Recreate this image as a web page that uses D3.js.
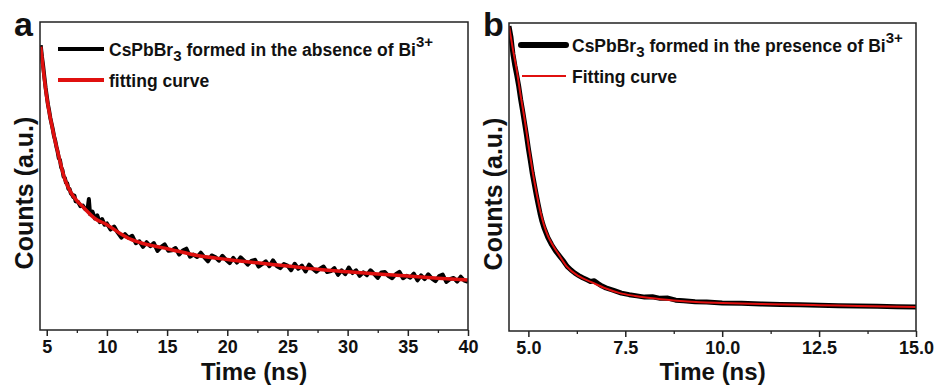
<!DOCTYPE html>
<html>
<head>
<meta charset="utf-8">
<style>
    body { margin:0; background:white; }
    svg text { font-family: Arial, "Liberation Sans", sans-serif; font-weight: bold; fill:#111; }
</style>
</head>
<body>
<svg id="chart" width="939" height="385"></svg>
<script src="https://cdn.jsdelivr.net/npm/d3@7/dist/d3.min.js"></script>
<script>
// ---- panel a : absence of Bi3+ ----
var timeA = [4.5,4.6,4.7,4.8,4.9,5.0,5.1,5.2,5.3,5.4,5.5,5.6,5.7,5.8,5.9,6.0,6.1,6.2,6.3,6.4,6.5,6.6,6.7,6.8,6.9,7.0,7.1,7.2,7.3,7.4,7.6,7.8,8.0,8.2,8.4,8.5,8.6,8.8,9.0,9.2,9.4,9.6,9.8,
    10.0,10.3,10.6,10.9,11.2,11.5,11.8,12.1,12.4,12.7,13.0,13.3,13.6,13.9,14.2,14.5,14.8,15.1,15.4,15.7,16.0,16.3,16.6,16.9,17.2,17.5,17.8,18.1,18.4,18.7,
    19.0,19.3,19.6,19.9,20.2,20.5,20.8,21.1,21.4,21.7,22.0,22.3,22.6,22.9,23.2,23.5,23.8,24.1,24.4,24.7,25.0,25.3,25.6,25.9,26.2,26.5,26.8,27.1,27.4,27.7,
    28.0,28.3,28.6,28.9,29.2,29.5,29.8,30.1,30.4,30.7,31.0,31.3,31.6,31.9,32.2,32.5,32.8,33.1,33.4,33.7,34.0,34.3,34.6,34.9,35.2,35.5,35.8,36.1,36.4,36.7,
    37.0,37.3,37.6,37.9,38.2,38.5,38.8,39.1,39.4,39.7,40.0];
var countsA = [925,888,858,822,788,760,732,712,688,670,652,630,616,596,580,558,552,528,520,498,494,478,476,458,458,444,440,432,436,418,416,402,404,392,396,425,376,384,362,372,350,360,342,
    346,326,336,316,300,311,299,306,282,288,270,285,272,282,257,270,278,257,259,266,245,258,264,238,245,237,251,236,223,242,
    237,225,241,228,217,234,219,236,225,212,224,228,206,214,223,207,226,208,201,214,209,194,215,199,209,190,212,199,189,199,
    206,188,191,201,179,194,181,203,185,194,176,187,178,194,182,169,187,188,175,168,181,189,168,176,170,183,161,177,165,181,
    167,159,175,180,156,165,169,157,173,160,156];
var fitTimeA = [4.5,5.0,5.5,6.0,6.5,7.0,7.5,8.0,9.0,10,11,12,13,14,15,17.5,20,22.5,25,27.5,30,32.5,35,37.5,40];
var fitA = [920,756,650,564,490,447,420,400,362,342,316,294,281,272,264,242,229,218,208,197,189,182,175,168,162];

// ---- panel b : presence of Bi3+ ----
var timeB = [4.5,4.55,4.6,4.65,4.7,4.75,4.8,4.85,4.9,4.95,5.0,5.05,5.1,5.15,5.2,5.25,5.3,5.35,5.4,5.5,5.6,5.7,5.8,5.9,6.0,6.1,6.2,6.3,6.4,6.5,6.6,6.7,
    6.8,6.9,7.0,7.2,7.4,7.6,7.8,8.0,8.2,8.4,8.6,8.8,9.0,9.3,9.6,10.0,10.5,11.0,11.5,12.0,12.5,13.0,13.5,14.0,14.5,15.0];
var countsB = [990,955,900,862,830,795,752,715,676,636,592,553,512,478,444,412,382,356,336,304,280,260,244,228,210,198,188,180,173,167,161,163,
    154,146,140,132,123,118,114,110,111,106,107,100,98,95,94,91,90,88,86,85,84,82,81,80,79,78];
var fitTimeB = [4.5,4.6,4.7,4.8,4.9,5.0,5.1,5.2,5.3,5.4,5.5,5.6,5.8,6.0,6.3,6.67,7.0,7.36,7.75,8.14,8.75,9.43,10,11,12,12.5,13.5,15];
var fitB = [990,915,847,765,690,605,525,455,393,345,310,285,245,208,178,156,138,123,114,107,99,93,91,88,85,84,81,78];

var ticksA = [5,10,15,20,25,30,35,40];
var minorA = [7.5,12.5,17.5,22.5,27.5,32.5,37.5];
var ticksB = [5.0,7.5,10.0,12.5,15.0];
var minorB = [6.25,8.75,11.25,13.75];

var svg = d3.select("#chart");

function panel(opt){
    var x = d3.scaleLinear().domain(opt.xdom).range([opt.left, opt.right]);
    var y = d3.scaleLinear().domain([0,1000]).range([opt.bottom, opt.top]);
    var g = svg.append("g");

    g.append("clipPath").attr("id","clip"+opt.id)
        .append("rect").attr("x",opt.left).attr("y",opt.top)
        .attr("width",opt.right-opt.left).attr("height",opt.bottom-opt.top);

    var line = d3.line().x(function(d){return x(d[0]);}).y(function(d){return y(d[1]);});
    var dataPts = opt.t.map(function(t,i){return [t,opt.c[i]];});
    var fitPts = opt.ft.map(function(t,i){return [t,opt.f[i]];});

    g.append("path").datum(dataPts).attr("clip-path","url(#clip"+opt.id+")")
        .attr("d",line).attr("fill","none").attr("stroke","#000")
        .attr("stroke-width",opt.dataW).attr("stroke-linejoin","round");
    g.append("path").datum(fitPts).attr("clip-path","url(#clip"+opt.id+")")
        .attr("d",line.curve(d3.curveMonotoneX)).attr("fill","none").attr("stroke","#e0100f")
        .attr("stroke-width",opt.fitW);

    // frame
    g.append("rect").attr("x",opt.left).attr("y",opt.top)
        .attr("width",opt.right-opt.left).attr("height",opt.bottom-opt.top)
        .attr("fill","none").attr("stroke","#222").attr("stroke-width",1.5);

    // minor ticks
    g.append("g").attr("transform","translate(0,"+opt.bottom+")")
        .call(d3.axisBottom(x).tickValues(opt.minor).tickSize(3).tickSizeOuter(0).tickFormat(""))
        .call(function(a){a.select(".domain").remove(); a.selectAll("line").attr("stroke","#222").attr("stroke-width",1.3);});
    // major ticks
    var ax = g.append("g").attr("transform","translate(0,"+opt.bottom+")")
        .call(d3.axisBottom(x).tickValues(opt.ticks).tickSize(6).tickSizeOuter(0).tickFormat(opt.fmt));
    ax.select(".domain").remove();
    ax.selectAll("line").attr("stroke","#222").attr("stroke-width",1.5);
    ax.selectAll("text").attr("y",23).attr("dy",0)
        .style("font-size","18px").style("font-family","Arial, 'Liberation Sans', sans-serif")
        .style("font-weight","bold").attr("fill","#111");

    // axis titles
    g.append("text").attr("x",(opt.left+opt.right)/2).attr("y",380)
        .attr("text-anchor","middle").style("font-size","24px").text("Time (ns)");
    g.append("text").attr("transform","translate("+(opt.left-7)+","+((opt.top+opt.bottom)/2+17)+") rotate(-90)")
        .attr("text-anchor","middle").style("font-size","25px").text("Counts (a.u.)");

    // panel letter
    g.append("text").attr("x",opt.left-26).attr("y",36).style("font-size","34px").text(opt.id);

    // legend
    var lg = opt.legend;
    g.append("line").attr("x1",lg.x1).attr("x2",lg.x2).attr("y1",lg.y1).attr("y2",lg.y1)
        .attr("stroke","#000").attr("stroke-width",lg.w1).attr("stroke-linecap",lg.cap);
    var t1 = g.append("text").attr("x",lg.tx).attr("y",lg.y1+7).style("font-size","17.5px");
    t1.append("tspan").text("CsPbBr");
    t1.append("tspan").attr("dy",5).style("font-size","15px").text("3");
    t1.append("tspan").attr("dy",-5).text(lg.label);
    t1.append("tspan").attr("dy",-9).style("font-size","15px").text("3+");

    g.append("line").attr("x1",lg.x1r).attr("x2",lg.x2).attr("y1",lg.y2).attr("y2",lg.y2)
        .attr("stroke","#e0100f").attr("stroke-width",lg.w2);
    g.append("text").attr("x",lg.tx).attr("y",lg.y2+7).style("font-size","17.5px").text(lg.fit);
}

panel({id:"a", xdom:[4.44,40], left:40, right:468, top:22, bottom:330,
    t:timeA, c:countsA, ft:fitTimeA, f:fitA, dataW:4, fitW:3.5,
    ticks:ticksA, minor:minorA, fmt:d3.format("d"),
    legend:{x1:58, x1r:58, x2:104, y1:49, y2:80, tx:109, w1:4, w2:4, cap:"butt",
        label:" formed in the absence of Bi", fit:"fitting curve"}});

panel({id:"b", xdom:[4.5,15], left:509, right:916, top:23, bottom:331,
    t:timeB, c:countsB, ft:fitTimeB, f:fitB, dataW:5, fitW:2,
    ticks:ticksB, minor:minorB, fmt:d3.format(".1f"),
    legend:{x1:521, x1r:522, x2:566, y1:45, y2:76, tx:572, w1:6, w2:2, cap:"round",
        label:" formed in the presence of Bi", fit:"Fitting curve"}});
</script>
</body>
</html>
